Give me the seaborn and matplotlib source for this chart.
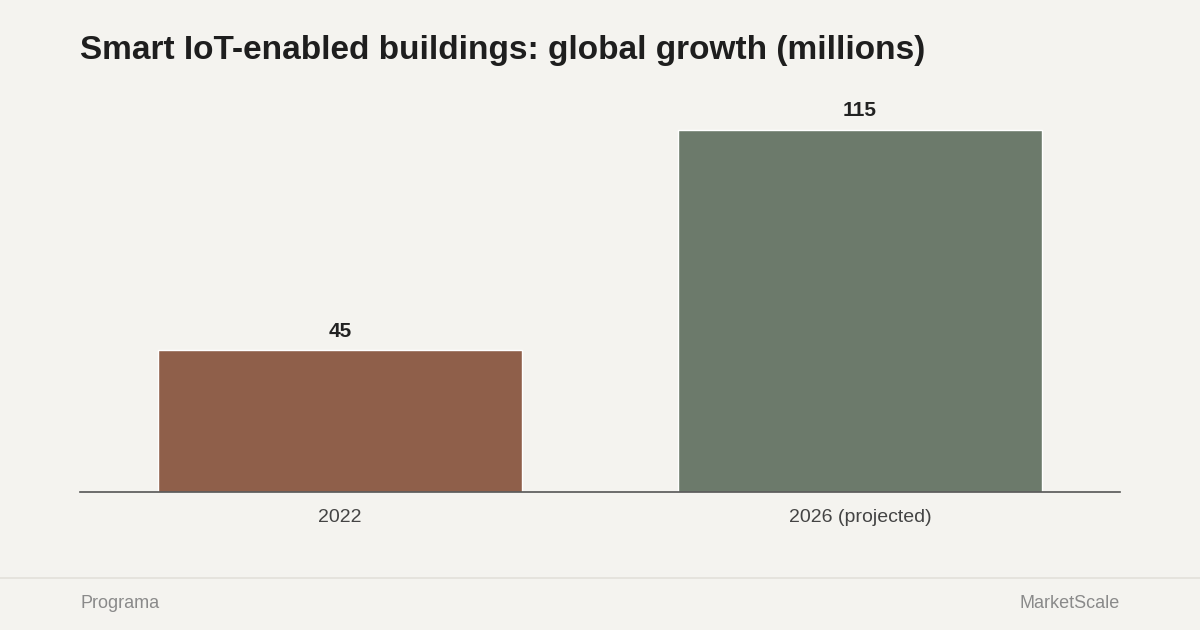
# IMPORTS
import matplotlib
matplotlib.use("Agg")
import matplotlib.pyplot as plt
import seaborn as sns
import pandas as pd

# ---------------------------
# 1. DADOS
# ---------------------------
categorias = ["2022", "2026 (projected)"]
valores = [45, 115]
cores = ["#9A5A3E", "#6A7C69"]

df = pd.DataFrame({"Ano": categorias, "Valor": valores})

# ---------------------------
# 2. ESTILO
# ---------------------------
sns.set_style("white")
plt.rcParams["font.family"] = ["Liberation Sans", "DejaVu Sans"]
fundo = "#F4F3EF"

# ---------------------------
# 3. GRÁFICO
# ---------------------------
fig = plt.figure(figsize=(12, 6.3), dpi=100, facecolor=fundo)
ax = fig.add_axes([80 / 1200, 138 / 630, 1040 / 1200, 392 / 630])
ax.set_facecolor(fundo)

sns.barplot(data=df, x="Ano", y="Valor", hue="Ano", palette=cores,
            width=0.7, legend=False, ax=ax)

for i, v in enumerate(valores):
    ax.text(i, v + 3, str(v), ha="center", va="bottom",
            fontsize=15, fontweight="bold", color="#222222")

ax.set_xlim(-0.5, 1.5)
ax.set_ylim(0, 124.5)
ax.set_xlabel("")
ax.set_ylabel("")
ax.set_yticks([])
ax.tick_params(axis="x", length=0, labelsize=14, labelcolor="#444444", pad=12)
for lado in ["top", "right", "left"]:
    ax.spines[lado].set_visible(False)
ax.spines["bottom"].set_color("#555555")
ax.spines["bottom"].set_linewidth(1.2)

# título
fig.text(80 / 1200, 1 - 50 / 630, "Smart IoT-enabled buildings: global growth (millions)",
         fontsize=24, fontweight="bold", color="#1E1E1E", va="center")

# rodapé
fig.add_artist(plt.Line2D([0, 1], [1 - 578 / 630, 1 - 578 / 630],
                          color="#E2E0DA", linewidth=1.2))
fig.text(80 / 1200, 1 - 603 / 630, "Programa", fontsize=13, color="#8A8A8A", va="center")
fig.text(1120 / 1200, 1 - 604 / 630, "MarketScale", fontsize=13, color="#8A8A8A",
         va="center", ha="right")

fig.savefig("out.png", dpi=100, facecolor=fundo)
